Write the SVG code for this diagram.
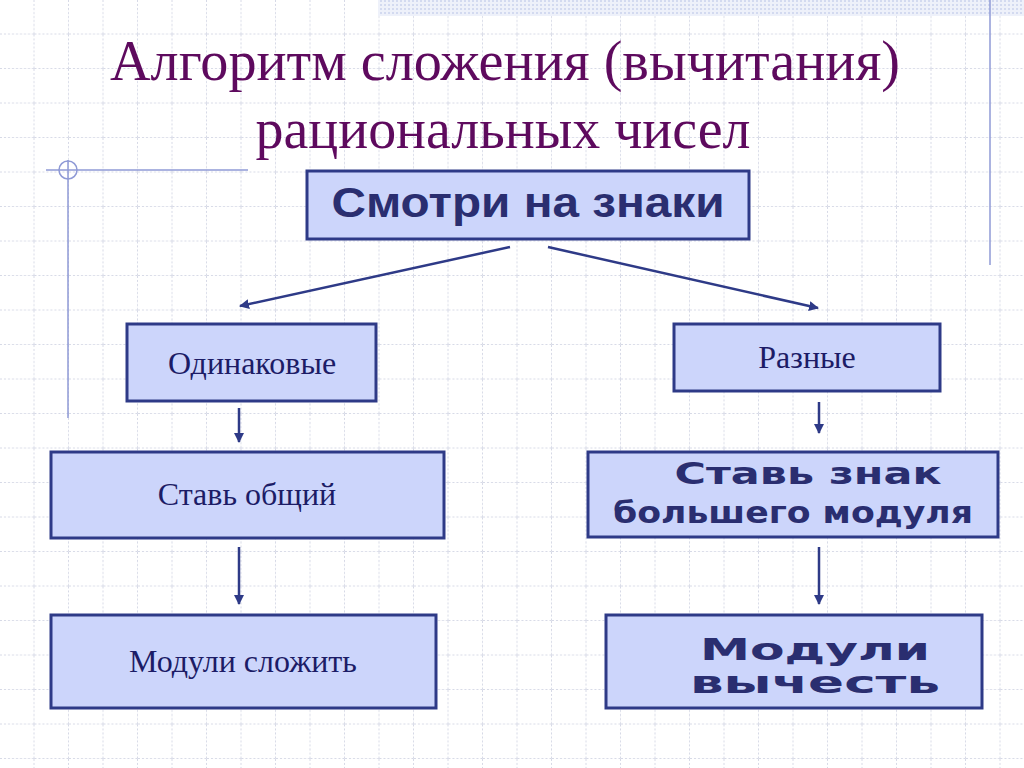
<svg xmlns="http://www.w3.org/2000/svg" width="1024" height="768" viewBox="0 0 1024 768">
<defs>
<pattern id="grid" width="34.5" height="34.5" patternUnits="userSpaceOnUse" x="0" y="0">
<path d="M34 0V34.5M0 34H34.5" fill="none" stroke="#d6d9e6" stroke-width="1" stroke-dasharray="2,2"/>
</pattern>
<pattern id="dots" width="4" height="4" patternUnits="userSpaceOnUse">
<rect width="4" height="4" fill="#eef1fa"/><rect width="2" height="2" fill="#d3daf0"/>
</pattern>
<marker id="ah" viewBox="0 0 10 10" refX="9" refY="5" markerWidth="4" markerHeight="4" orient="auto">
<path d="M0 0L10 5L0 10z" fill="#2e3a87"/>
</marker>
<style>
.box{fill:#ccd5fb;stroke:#2e3a87;stroke-width:3}
.t{font-family:"Liberation Serif",serif;font-size:32px;fill:#1c1c66;text-anchor:middle}
.b{font-family:"DejaVu Sans",sans-serif;font-weight:bold;font-size:30px;fill:#2a2e70;text-anchor:middle}
.c{stroke:#2e3a87;stroke-width:2.5;fill:none;marker-end:url(#ah)}
</style>
</defs>
<rect width="1024" height="768" fill="#fff"/>
<rect width="1024" height="768" fill="url(#grid)"/>
<rect x="378" y="0" width="646" height="16" fill="url(#dots)"/>
<line x1="990" y1="0" x2="990" y2="265" stroke="#8f9ad6" stroke-width="1.5"/>
<line x1="46" y1="170" x2="248" y2="170" stroke="#8f9ad6" stroke-width="1.5"/>
<line x1="68" y1="160" x2="68" y2="418" stroke="#8f9ad6" stroke-width="1.5"/>
<circle cx="68" cy="170" r="9" fill="none" stroke="#8f9ad6" stroke-width="1.5"/>
<g font-family="Liberation Serif,serif" font-size="56" fill="#5e0a5e" text-anchor="middle" lengthAdjust="spacingAndGlyphs">
<text x="505" y="80" textLength="790" lengthAdjust="spacingAndGlyphs">Алгоритм сложения (вычитания)</text>
<text x="503" y="148" textLength="495" lengthAdjust="spacingAndGlyphs">рациональных чисел</text>
</g>
<g id="connectors">
<line class="c" x1="510" y1="247" x2="240" y2="306"/>
<line class="c" x1="548" y1="247" x2="818" y2="308"/>
<line class="c" x1="239" y1="408" x2="239" y2="442"/>
<line class="c" x1="819" y1="402" x2="819" y2="433"/>
<line class="c" x1="239" y1="547" x2="239" y2="604"/>
<line class="c" x1="819" y1="547" x2="819" y2="604"/>
</g>
<g id="n0"><rect class="box" x="307" y="171" width="442" height="68"/>
<text x="528" y="217" font-family="Liberation Sans,sans-serif" font-weight="bold" font-size="42" fill="#2a2e70" text-anchor="middle" textLength="393" lengthAdjust="spacingAndGlyphs">Смотри на знаки</text></g>
<g id="n1"><rect class="box" x="127" y="324" width="249" height="77"/><text class="t" x="252" y="374">Одинаковые</text></g>
<g id="n2"><rect class="box" x="674" y="324" width="266" height="67"/><text class="t" x="807" y="368">Разные</text></g>
<g id="n3"><rect class="box" x="51" y="452" width="393" height="86"/><text class="t" x="247" y="505">Ставь общий</text></g>
<g id="n4"><rect class="box" x="588" y="452" width="410" height="85"/>
<text class="b" x="808" y="484" textLength="267" lengthAdjust="spacingAndGlyphs">Ставь знак</text><text class="b" x="793" y="523" textLength="360" lengthAdjust="spacingAndGlyphs">большего модуля</text></g>
<g id="n5"><rect class="box" x="51" y="615" width="385" height="93"/><text class="t" x="243" y="672">Модули сложить</text></g>
<g id="n6"><rect class="box" x="606" y="615" width="376" height="93"/>
<text class="b" x="815" y="660" textLength="230" lengthAdjust="spacingAndGlyphs">Модули</text><text class="b" x="815" y="693" textLength="250" lengthAdjust="spacingAndGlyphs">вычесть</text></g>
</svg>
